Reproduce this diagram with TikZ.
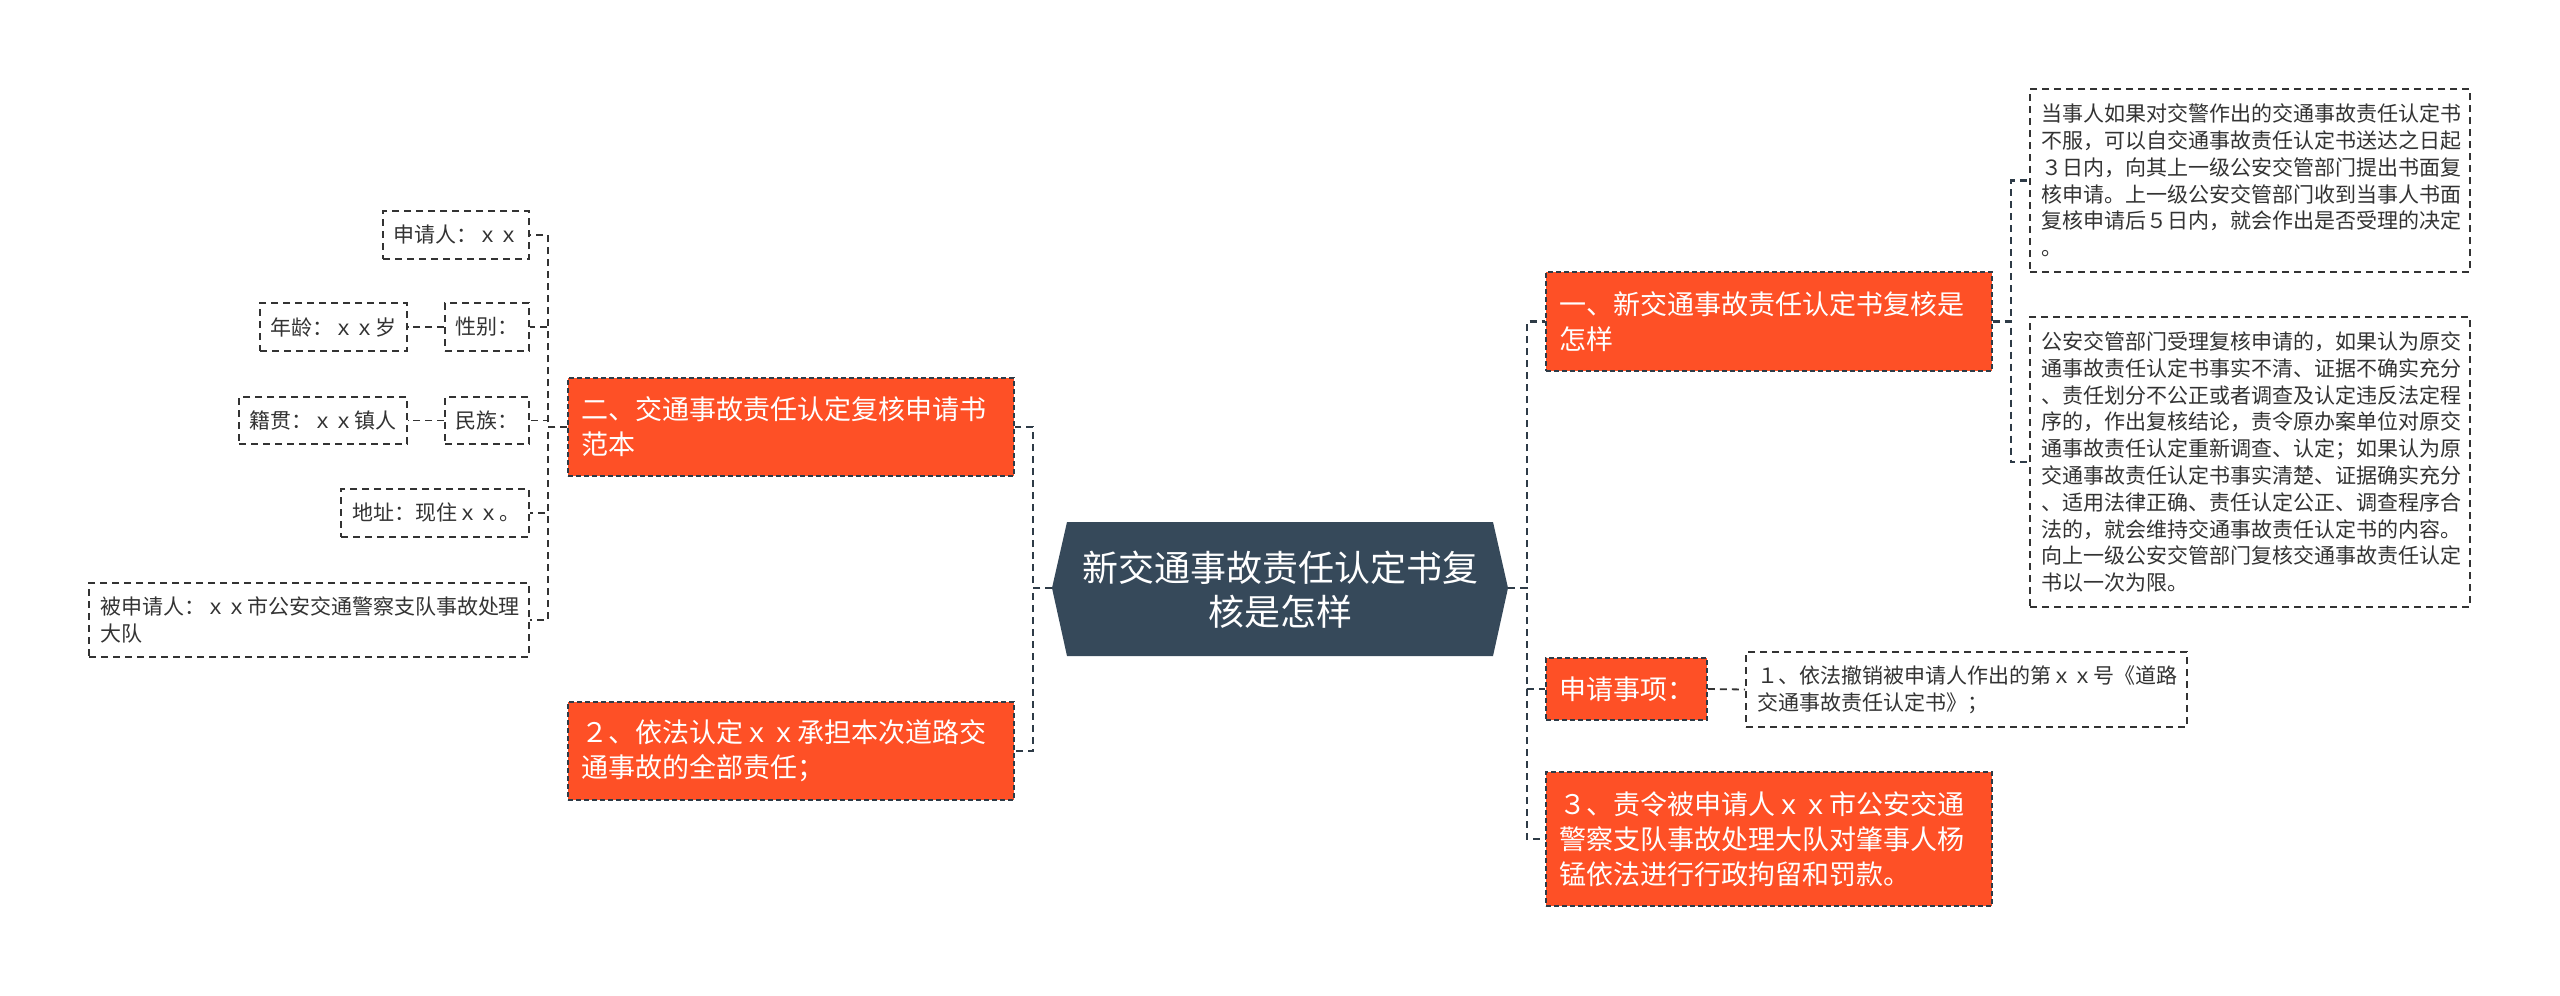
\documentclass[tikz,border=0pt]{standalone}
\usepackage{fontspec}
\setmainfont{Noto Sans CJK SC}
\definecolor{org}{HTML}{FE5026}
\definecolor{ctr}{HTML}{36495A}
\definecolor{dk}{HTML}{2E3B47}
\definecolor{txt}{HTML}{333333}
\tikzset{
  gbox/.style={draw=txt, dash pattern=on 7pt off 5pt, line width=1.6pt, fill=white, text=txt,
    font=\fontsize{21pt}{26.8pt}\selectfont, align=left, inner sep=0pt},
  obox/.style={draw=dk, dash pattern=on 5pt off 3pt, line width=1.6pt, fill=org, text=white,
    font=\fontsize{27pt}{35pt}\selectfont, align=left, inner sep=0pt},
  ctext/.style={text=white, font=\fontsize{36pt}{44pt}\selectfont, align=center, inner sep=0pt},
  conn/.style={draw=dk, dash pattern=on 7pt off 5pt, line width=2.4pt},
  conntwo/.style={draw=txt, dash pattern=on 7pt off 5pt, line width=1.8pt},
}
\begin{document}
\begin{tikzpicture}[x=1pt,y=-1pt]
\useasboundingbox[fill=white] (0,0) rectangle (2560,996);

% central node
\fill[ctr] (1052,588) -- (1067,522) -- (1493,522) -- (1508,588) -- (1493,656) -- (1067,656) -- cycle;
\coordinate (cL) at (1052,588);
\coordinate (cR) at (1508,588);
\coordinate (ls) at (1033,588);
\coordinate (rs) at (1527,588);
\node[ctext] (c) at (1280,590) {新交通事故责任认定书复\\核是怎样};

% right main children
\node[obox, minimum width=446pt, minimum height=99pt, text width=420pt] (n1) at (1769,321.5)
  {一、新交通事故责任认定书复核是\\怎样};
\node[obox, minimum width=161pt, minimum height=62pt, text width=135pt] (n2) at (1626.5,689)
  {申请事项：};
\node[obox, minimum width=446pt, minimum height=134pt, text width=420pt] (n3) at (1769,839)
  {３、责令被申请人ｘｘ市公安交通\\警察支队事故处理大队对肇事人杨\\锰依法进行行政拘留和罚款。};

% right grandchildren
\node[gbox, minimum width=440pt, minimum height=183pt, text width=418pt] (g1) at (2250,180.5)
  {当事人如果对交警作出的交通事故责任认定书\\不服，可以自交通事故责任认定书送达之日起\\３日内，向其上一级公安交管部门提出书面复\\核申请。上一级公安交管部门收到当事人书面\\复核申请后５日内，就会作出是否受理的决定\\。};
\node[gbox, minimum width=440pt, minimum height=290pt, text width=418pt] (g2) at (2250,462)
  {公安交管部门受理复核申请的，如果认为原交\\通事故责任认定书事实不清、证据不确实充分\\、责任划分不公正或者调查及认定违反法定程\\序的，作出复核结论，责令原办案单位对原交\\通事故责任认定重新调查、认定；如果认为原\\交通事故责任认定书事实清楚、证据确实充分\\、适用法律正确、责任认定公正、调查程序合\\法的，就会维持交通事故责任认定书的内容。\\向上一级公安交管部门复核交通事故责任认定\\书以一次为限。};
\node[gbox, minimum width=441pt, minimum height=75pt, text width=419pt] (g3) at (1966.5,689.5)
  {１、依法撤销被申请人作出的第ｘｘ号《道路\\交通事故责任认定书》；};

% left main children
\node[obox, minimum width=446pt, minimum height=98pt, text width=420pt] (L1) at (791,427)
  {二、交通事故责任认定复核申请书\\范本};
\node[obox, minimum width=446pt, minimum height=98pt, text width=420pt] (L2) at (791,751)
  {２、依法认定ｘｘ承担本次道路交\\通事故的全部责任；};

% left grandchildren
\node[gbox, minimum width=146pt, minimum height=48pt, text width=126pt] (a1) at (456,235) {申请人：ｘｘ};
\node[gbox, minimum width=84pt, minimum height=48pt, text width=64pt] (a2) at (487,327) {性别：};
\node[gbox, minimum width=147pt, minimum height=48pt, text width=127pt] (a3) at (333.5,327) {年龄：ｘｘ岁};
\node[gbox, minimum width=84pt, minimum height=47pt, text width=64pt] (a4) at (487,420.5) {民族：};
\node[gbox, minimum width=168pt, minimum height=47pt, text width=148pt] (a5) at (323,420.5) {籍贯：ｘｘ镇人};
\node[gbox, minimum width=188pt, minimum height=48pt, text width=166pt] (a6) at (435,513) {地址：现住ｘｘ。};
\node[gbox, minimum width=440pt, minimum height=74pt, text width=418pt] (a7) at (309,620)
  {被申请人：ｘｘ市公安交通警察支队事故处理\\大队};

% connectors: centre to main children
\draw[conn] (cR) -- (rs) |- (n1.west);
\draw[conn] (cR) -- (rs) |- (n2.west);
\draw[conn] (cR) -- (rs) |- (n3.west);
\draw[conn] (cL) -- (ls) |- (L1.east);
\draw[conn] (cL) -- (ls) |- (L2.east);

% connectors: main children to grandchildren
\draw[conn] (n1.east) -- ++(18,0) |- (g1.west);
\draw[conn] (n1.east) -- ++(18,0) |- (g2.west);
\draw[conntwo] (n2.east) -- (g3.west);
\draw[conntwo] (L1.west) -- ++(-19,0) |- (a1.east);
\draw[conntwo] (L1.west) -- ++(-19,0) |- (a2.east);
\draw[conntwo] (L1.west) -- ++(-19,0) |- (a4.east);
\draw[conntwo] (L1.west) -- ++(-19,0) |- (a6.east);
\draw[conntwo] (L1.west) -- ++(-19,0) |- (a7.east);
\draw[conntwo] (a2.west) -- (a3.east);
\draw[conntwo] (a4.west) -- (a5.east);
\end{tikzpicture}
\end{document}
